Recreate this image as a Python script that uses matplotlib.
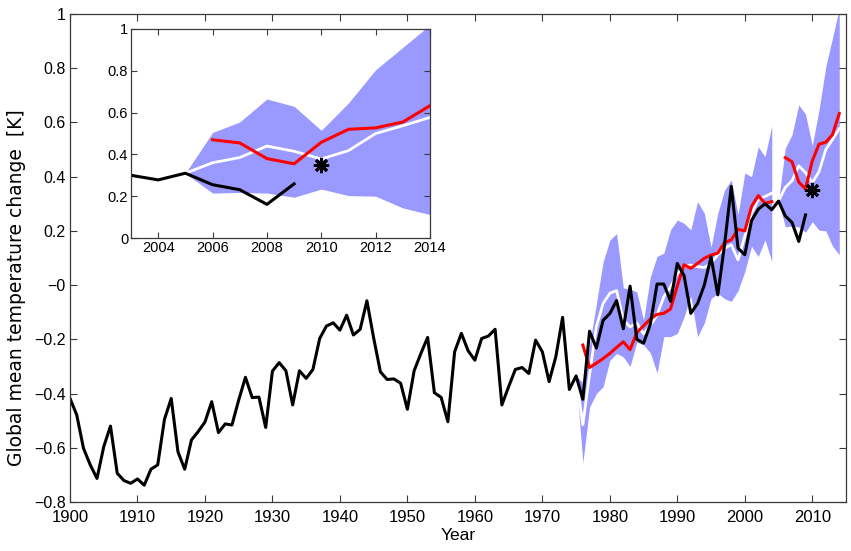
import matplotlib
matplotlib.use('Agg')
import matplotlib.pyplot as plt
from matplotlib.ticker import FuncFormatter
import numpy as np

# observed annual anomalies 1900-2009
obs_years = np.arange(1900, 2010)
obs = [-0.418, -0.479, -0.602, -0.663, -0.713, -0.596, -0.520, -0.694, -0.721, -0.731,
       -0.715, -0.738, -0.679, -0.663, -0.495, -0.418, -0.615, -0.679, -0.571, -0.540,
       -0.505, -0.430, -0.544, -0.512, -0.516, -0.424, -0.340, -0.415, -0.413, -0.525,
       -0.317, -0.286, -0.316, -0.442, -0.316, -0.344, -0.311, -0.197, -0.151, -0.139,
       -0.166, -0.111, -0.184, -0.163, -0.058, -0.195, -0.320, -0.348, -0.346, -0.362,
       -0.458, -0.316, -0.252, -0.193, -0.397, -0.414, -0.504, -0.246, -0.178, -0.242,
       -0.277, -0.197, -0.188, -0.163, -0.442, -0.375, -0.311, -0.304, -0.326, -0.203,
       -0.246, -0.356, -0.264, -0.119, -0.385, -0.335, -0.421, -0.170, -0.232, -0.130,
       -0.105, -0.057, -0.161, -0.004, -0.200, -0.214, -0.145, 0.004, 0.004, -0.060,
       0.080, 0.035, -0.104, -0.068, 0.000, 0.104, -0.036, 0.149, 0.364, 0.136,
       0.112, 0.238, 0.280, 0.300, 0.278, 0.310, 0.255, 0.231, 0.161, 0.259]

# hindcast run 1975-2004
hind_years = np.arange(1975, 2005)
hind_mean = [-0.335, -0.515, -0.330, -0.154, -0.068, -0.030, -0.020, -0.129, -0.154, -0.140,
             -0.180, -0.150, -0.110, -0.043, -0.006, 0.043, 0.068, 0.074, 0.068, 0.065,
             0.080, 0.112, 0.136, 0.149, 0.093, 0.180, 0.265, 0.315, 0.327, 0.339]
hind_hi = [-0.335, -0.360, -0.220, -0.070, 0.085, 0.166, 0.190, -0.010, -0.015, -0.025,
           -0.130, 0.030, 0.106, 0.118, 0.204, 0.240, 0.228, 0.204, 0.308, 0.265,
           0.140, 0.265, 0.350, 0.388, 0.260, 0.413, 0.400, 0.510, 0.474, 0.587]
hind_lo = [-0.335, -0.656, -0.450, -0.400, -0.375, -0.278, -0.252, -0.265, -0.300, -0.210,
           -0.220, -0.250, -0.324, -0.190, -0.190, -0.178, -0.117, -0.040, -0.190, -0.140,
           -0.050, -0.030, -0.050, -0.060, -0.020, 0.050, 0.143, 0.106, 0.167, 0.087]
red1_years = np.arange(1976, 2005)
red1 = [-0.221, -0.304, -0.288, -0.271, -0.252, -0.230, -0.209, -0.238, -0.175, -0.150,
        -0.125, -0.108, -0.104, -0.088, -0.003, 0.075, 0.062, 0.080, 0.099, 0.111,
        0.118, 0.157, 0.167, 0.206, 0.200, 0.290, 0.330, 0.302, 0.308]

# forecast from 2005
fc_years = np.arange(2005, 2015)
fc_mean = [0.310, 0.360, 0.385, 0.440, 0.415, 0.378, 0.418, 0.500, 0.537, 0.577]
fc_hi = [0.310, 0.505, 0.555, 0.665, 0.630, 0.515, 0.646, 0.805, 0.912, 1.020]
fc_lo = [0.310, 0.215, 0.218, 0.215, 0.195, 0.234, 0.203, 0.200, 0.144, 0.112]
red2_years = np.arange(2006, 2015)
red2 = [0.470, 0.455, 0.380, 0.355, 0.458, 0.520, 0.527, 0.555, 0.633]

star_x, star_y = 2010, 0.35

band_c = '#9999ff'
spine_c = '#3a3a3a'
plt.rcParams['font.family'] = ['Liberation Sans', 'DejaVu Sans']


def fmt(v, p):
    return ('%g' % round(v, 2)).replace('-', '\u2212')


def draw(ax, lw, hindcast=True):
    if hindcast:
        ax.fill_between(hind_years, hind_lo, hind_hi, color=band_c, lw=0)
    ax.fill_between(fc_years, fc_lo, fc_hi, color=band_c, lw=0)
    if hindcast:
        ax.plot(hind_years, hind_mean, color='white', lw=lw * 0.9)
    ax.plot(fc_years, fc_mean, color='white', lw=lw * 0.9)
    if hindcast:
        ax.plot(red1_years, red1, color='red', lw=lw)
    ax.plot(red2_years, red2, color='red', lw=lw)
    ax.plot(obs_years, obs, color='black', lw=lw)
    ax.plot(star_x, star_y, marker=(8, 2, 0), color='black', ms=11, mew=2)
    for s in ax.spines.values():
        s.set_color(spine_c)
        s.set_linewidth(0.9)
    ax.tick_params(direction='in', top=True, right=True, length=5, width=0.8,
                   color=spine_c)
    ax.yaxis.set_major_formatter(FuncFormatter(fmt))


fig = plt.figure(figsize=(8.51, 5.51), dpi=100)
ax = fig.add_axes([70 / 851, 49 / 551, 776 / 851, 488 / 551])
draw(ax, 2.2)
ax.set_xlim(1900, 2015)
ax.set_ylim(-0.8, 1)
ax.set_xticks(np.arange(1900, 2011, 10))
ax.set_yticks(np.arange(-0.8, 1.01, 0.2))
ax.tick_params(axis='x', labelsize=12, pad=6)
ax.tick_params(axis='y', labelsize=11.5, pad=3)
ax.set_xlabel('Year', fontsize=12.5, labelpad=2)
ax.set_ylabel('Global mean temperature change  [K]', family='DejaVu Sans', fontsize=13.5)
ax.yaxis.set_label_coords(-0.057, 0.44)

ins = fig.add_axes([131 / 851, 313 / 551, 299 / 851, 209 / 551])
draw(ins, 2.2, hindcast=False)
ins.set_xlim(2003, 2014)
ins.set_ylim(0, 1)
ins.set_xticks(np.arange(2004, 2015, 2))
ins.set_yticks(np.arange(0, 1.01, 0.2))
ins.tick_params(labelsize=10.5, length=4, pad=2)

plt.savefig('out.png', dpi=100)
